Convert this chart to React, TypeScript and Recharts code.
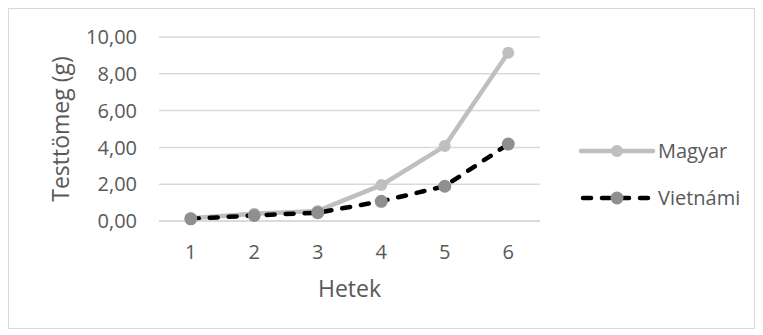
import React from 'react';
import { LineChart, Line, XAxis, YAxis, CartesianGrid, Legend } from 'recharts';

const weeks = ['1', '2', '3', '4', '5', '6'];
const magyar = [0.15, 0.4, 0.55, 1.95, 4.07, 9.15];
const vietnami = [0.12, 0.3, 0.45, 1.07, 1.89, 4.18];
const yTicks = [0, 2, 4, 6, 8, 10];

const data = weeks.map((w, i) => ({ week: w, Magyar: magyar[i], Vietnámi: vietnami[i] }));

const FONT = '"Open Sans", sans-serif';
const TEXT = '#595959';
const GRID = '#d9d9d9';
const DASH = '8 11';

const fmt = (v: number) => v.toFixed(2).replace('.', ',');

const YTitle = (props: any) => {
  const vb = props.viewBox;
  return (
    <text
      x={51}
      y={vb.y + vb.height / 2}
      transform={`rotate(-90, 51, ${vb.y + vb.height / 2})`}
      textAnchor="middle"
      dominantBaseline="central"
      fill={TEXT}
      fontSize={23}
      fontFamily={FONT}
    >
      Testtömeg (g)
    </text>
  );
};

const renderLegend = () => (
  <div style={{ fontFamily: FONT, fontSize: 20, color: TEXT }}>
    <div style={{ display: 'flex', alignItems: 'center', height: 47 }}>
      <svg width={86} height={20}>
        <line x1={9} y1={10} x2={81} y2={10} stroke="#bfbfbf" strokeWidth={4.5} strokeLinecap="round" />
        <circle cx={45} cy={10} r={6} fill="#bfbfbf" />
      </svg>
      <span>Magyar</span>
    </div>
    <div style={{ display: 'flex', alignItems: 'center', height: 47 }}>
      <svg width={86} height={20}>
        <line x1={11} y1={10} x2={81} y2={10} stroke="#000" strokeWidth={4.5} strokeLinecap="round" strokeDasharray={DASH} />
        <circle cx={45} cy={10} r={6.5} fill="#8f8f8f" />
      </svg>
      <span>Vietnámi</span>
    </div>
  </div>
);

export default function App() {
  return (
    <div style={{ width: 745, height: 319, border: `1px solid ${GRID}`, background: '#fff' }}>
      <LineChart width={745} height={319} data={data} margin={{ top: 28, right: 214, left: 0, bottom: 27 }}>
        <CartesianGrid vertical={false} stroke={GRID} strokeWidth={1.5} />
        <XAxis
          dataKey="week"
          padding={{ left: 31.75, right: 31.75 }}
          axisLine={{ stroke: GRID, strokeWidth: 1.5 }}
          tickLine={false}
          tickMargin={18}
          height={80}
          tick={{ fill: TEXT, fontSize: 20, fontFamily: FONT }}
          label={{ value: 'Hetek', position: 'insideBottom', offset: 4, fill: TEXT, fontSize: 23, fontFamily: FONT }}
        />
        <YAxis
          width={150}
          domain={[0, 10]}
          ticks={yTicks}
          tickFormatter={fmt}
          axisLine={false}
          tickLine={false}
          tickMargin={16}
          tick={{ fill: TEXT, fontSize: 20, fontFamily: FONT }}
          label={<YTitle />}
        />
        <Legend
          layout="vertical"
          align="center"
          verticalAlign="middle"
          content={renderLegend}
          wrapperStyle={{ position: 'absolute', left: 563, top: 118, width: 180 }}
        />
        <Line
          type="linear"
          dataKey="Magyar"
          stroke="#bfbfbf"
          strokeWidth={4.5}
          dot={{ r: 6, fill: '#bfbfbf', stroke: 'none' }}
          isAnimationActive={false}
        />
        <Line
          type="linear"
          dataKey="Vietnámi"
          stroke="#000"
          strokeWidth={4.5}
          strokeDasharray={DASH}
          strokeLinecap="round"
          dot={{ r: 6.5, fill: '#8f8f8f', stroke: 'none', strokeDasharray: '' }}
          isAnimationActive={false}
        />
      </LineChart>
    </div>
  );
}
